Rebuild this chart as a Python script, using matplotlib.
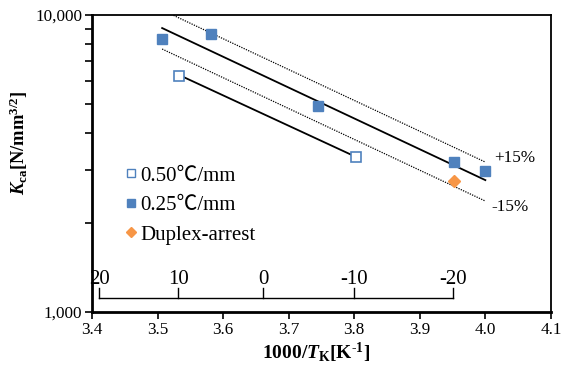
import numpy as np
import matplotlib
matplotlib.use("Agg")
import matplotlib.pyplot as plt
from matplotlib.ticker import FixedLocator, NullFormatter
from matplotlib.lines import Line2D

plt.rcParams["font.family"] = ["Liberation Serif", "Noto Sans CJK JP"]
plt.rcParams["mathtext.fontset"] = "custom"
plt.rcParams["mathtext.rm"] = "Liberation Serif:bold"
plt.rcParams["mathtext.it"] = "Liberation Serif:bold:italic"
plt.rcParams["mathtext.bf"] = "Liberation Serif:bold"

# data
x_050 = [3.533, 3.803]
k_050 = [6240, 3325]
x_025 = [3.507, 3.581, 3.745, 3.952, 3.999]
k_025 = [8300, 8630, 4940, 3200, 2985]
x_duplex = [3.952]
k_duplex = [2760]

# fitted lines
fit_x = [3.507, 4.0]
fit_k = [9040, 2780]
fit050_x = [3.533, 3.803]
fit050_k = [6280, 3325]
band = 0.15

# secondary temperature scale (deg C)
temps = [20, 10, 0, -10, -20]

blue = "#4F81BD"
orange = "#F79646"

fig = plt.figure(figsize=(5.61, 3.67), dpi=100)
ax = fig.add_axes([0.164, 0.150, 0.818, 0.809])

ax.plot(fit_x, fit_k, color="black", lw=1.3, zorder=2)
ax.plot(fit_x, np.array(fit_k) * (1 + band), color="black", lw=0.9, ls=(0, (1, 1)), zorder=2)
ax.plot(fit_x, np.array(fit_k) * (1 - band), color="black", lw=0.9, ls=(0, (1, 1)), zorder=2)
ax.plot(fit050_x, fit050_k, color="black", lw=1.3, zorder=2)

ax.plot(x_050, k_050, ls="none", marker="s", ms=7, mfc="white", mec=blue, mew=1.2, zorder=3)
ax.plot(x_025, k_025, ls="none", marker="s", ms=7.5, mfc=blue, mec=blue, zorder=3)
ax.plot(x_duplex, k_duplex, ls="none", marker="D", ms=6.5, mfc=orange, mec=orange, zorder=3)

ax.text(4.045, 3297, "+15%", fontsize=12.3, ha="center", va="center")
ax.text(4.038, 2260, "-15%", fontsize=12.3, ha="center", va="center")

ax.set_yscale("log")
ax.set_xlim(3.4, 4.1)
ax.set_ylim(1000, 10000)
ax.set_xticks(np.arange(3.4, 4.11, 0.1))
ax.set_xticklabels(["%.1f" % v for v in np.arange(3.4, 4.11, 0.1)])
ax.yaxis.set_major_locator(FixedLocator([1000, 10000]))
ax.set_yticklabels(["1,000", "10,000"])
ax.yaxis.set_minor_locator(FixedLocator(np.arange(2000, 10000, 1000)))
ax.yaxis.set_minor_formatter(NullFormatter())
ax.tick_params(axis="both", which="both", direction="out", labelsize=12.3, width=1.2)
ax.tick_params(axis="both", which="major", length=5, pad=2)
ax.tick_params(axis="y", which="minor", length=5)
for side in ["left", "bottom"]:
    ax.spines[side].set_linewidth(2)
for side in ["top", "right"]:
    ax.spines[side].set_linewidth(1.3)

ax.set_xlabel(r"1000/$T_{\rm K}$[K$^{\text{-1}}$]", fontsize=14, fontweight="bold")
ax.xaxis.set_label_coords(0.488, -0.098)
ax.set_ylabel(r"$K_{\rm ca}$[N/mm$^{3/2}$]", fontsize=13.3, fontweight="bold")
ax.yaxis.set_label_coords(-0.135, 0.569)

# temperature scale inside the axes
tx = [1000.0 / (t + 273.15) for t in temps]
trans = ax.get_xaxis_transform()
ax.plot([tx[0], tx[-1]], [0.047, 0.047], color="black", lw=1, transform=trans)
for t, xv in zip(temps, tx):
    ax.plot([xv, xv], [0.047, 0.081], color="black", lw=1, transform=trans)
    ax.text(xv, 0.11, str(t), fontsize=15, ha="center", va="center", transform=trans)

handles = [
    Line2D([], [], ls="none", marker="s", ms=6, mfc="white", mec=blue, mew=1),
    Line2D([], [], ls="none", marker="s", ms=6, mfc=blue, mec=blue),
    Line2D([], [], ls="none", marker="D", ms=5, mfc=orange, mec=orange),
]
ax.legend(handles, ["0.50\u2103/mm", "0.25\u2103/mm", "Duplex-arrest"],
          loc="upper left", bbox_to_anchor=(0.072, 0.491), frameon=False,
          fontsize=15, handlelength=0.6, handletextpad=0.15, labelspacing=0.47,
          borderaxespad=0, borderpad=0)

fig.savefig("out.png", dpi=100)
